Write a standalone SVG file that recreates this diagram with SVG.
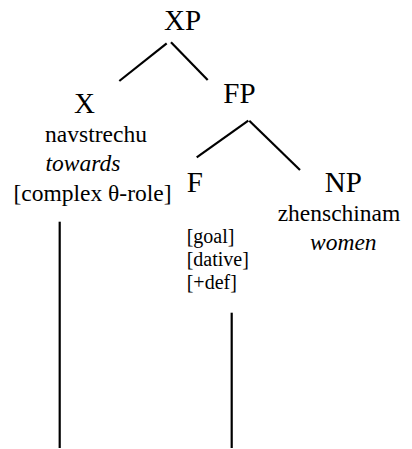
<svg xmlns="http://www.w3.org/2000/svg" width="412" height="449" viewBox="0 0 412 449">
  <style>
    .cat { font-family: "Liberation Serif", "Times New Roman", serif; font-size: 29px; fill: #000; text-anchor: middle; }
    .word { font-family: "Liberation Serif", "Times New Roman", serif; font-size: 23.5px; fill: #000; text-anchor: middle; }
    .gloss { font-family: "Liberation Serif", "Times New Roman", serif; font-size: 23.5px; font-style: italic; fill: #000; text-anchor: middle; }
    .feat { font-family: "Liberation Serif", "Times New Roman", serif; font-size: 20px; fill: #000; }
    .edge { stroke: #000; stroke-width: 2.2; fill: none; }
  </style>
  <rect width="412" height="449" fill="#fff"/>
  <g id="connectors">
    <line class="edge" x1="166.7" y1="43.3" x2="119.3" y2="81"/>
    <line class="edge" x1="171" y1="42.3" x2="207.7" y2="80"/>
    <line class="edge" x1="248.3" y1="120.7" x2="196.7" y2="157.3"/>
    <line class="edge" x1="249.3" y1="120.7" x2="300" y2="170"/>
    <line class="edge" x1="59.7" y1="221.7" x2="59.7" y2="448"/>
    <line class="edge" x1="231.7" y1="312.7" x2="231.7" y2="448"/>
  </g>
  <g id="XP"><text class="cat" x="182.5" y="30">XP</text></g>
  <g id="X">
    <text class="cat" x="84.5" y="113">X</text>
    <text class="word" x="96" y="142">navstrechu</text>
    <text class="gloss" x="83" y="171">towards</text>
    <text class="word" x="92.5" y="201">[complex θ-role]</text>
  </g>
  <g id="FP"><text class="cat" x="239.5" y="103">FP</text></g>
  <g id="F">
    <text class="cat" x="194.7" y="191.5">F</text>
    <text class="feat" x="186.7" y="242.5">[goal]</text>
    <text class="feat" x="186.7" y="265.5">[dative]</text>
    <text class="feat" x="186.7" y="288.5">[+def]</text>
  </g>
  <g id="NP">
    <text class="cat" x="343.3" y="191.5">NP</text>
    <text class="word" x="339" y="221">zhenschinam</text>
    <text class="gloss" x="343.3" y="250">women</text>
  </g>
</svg>
